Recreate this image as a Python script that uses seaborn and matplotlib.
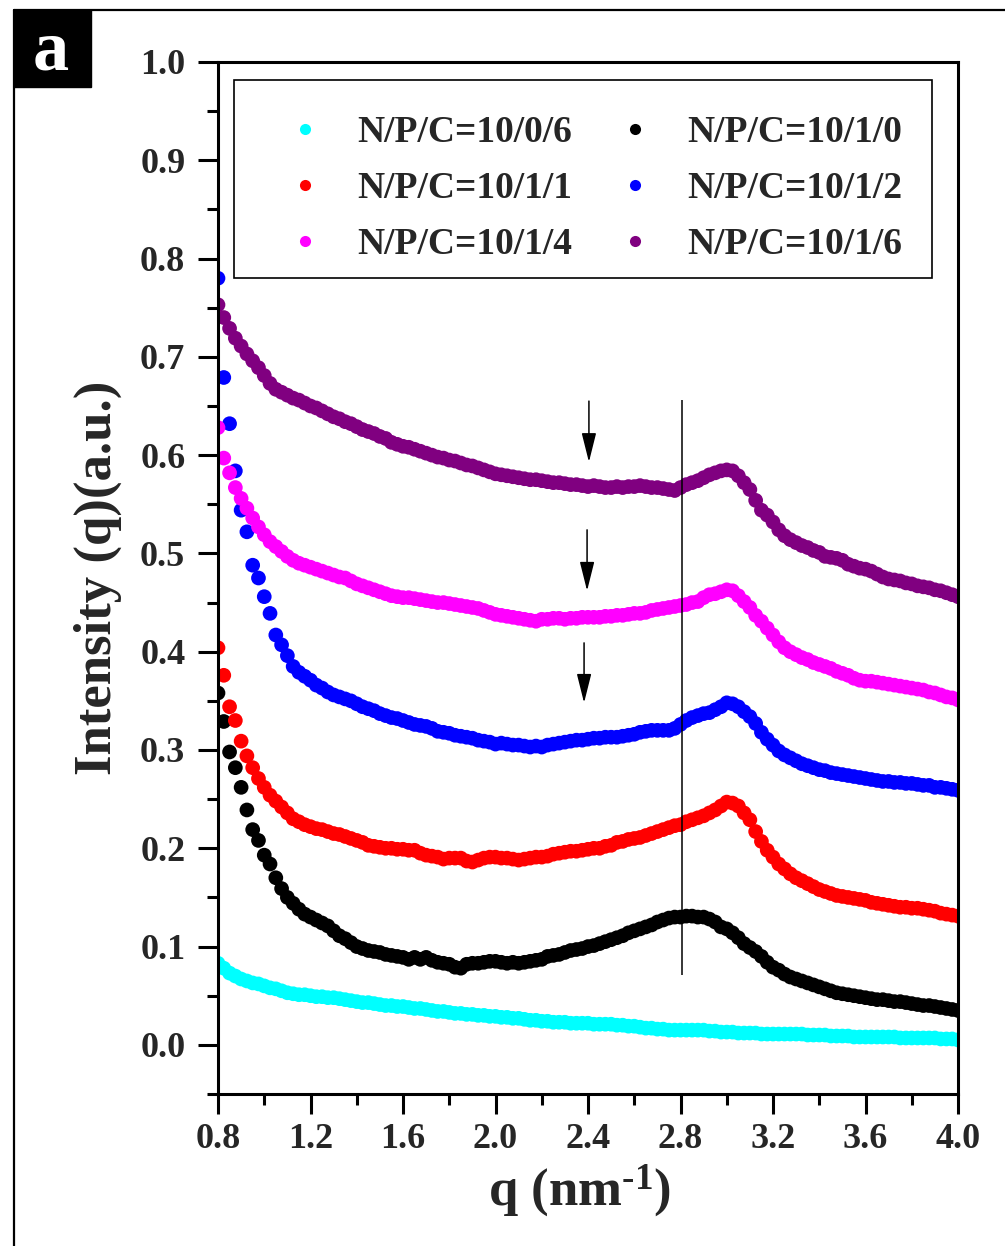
import numpy as np
import pandas as pd
import matplotlib
matplotlib.use("Agg")
import matplotlib.pyplot as plt
from matplotlib.lines import Line2D
from matplotlib.patches import Rectangle
from matplotlib.ticker import MultipleLocator, FormatStrFormatter
import seaborn as sns

# scattering vector grid (nm^-1)
q = np.round(np.linspace(0.8, 4.0, 129), 3)

labels = ["N/P/C=10/0/6", "N/P/C=10/1/0", "N/P/C=10/1/1",
          "N/P/C=10/1/2", "N/P/C=10/1/4", "N/P/C=10/1/6"]
colors = ["#00FFFF", "#000000", "#FF0000", "#0000FF", "#FF00FF", "#800080"]

i_10_0_6 = [
    0.083, 0.078, 0.073, 0.070, 0.067, 0.065, 0.063, 0.062, 0.060, 0.058,
    0.057, 0.055, 0.053, 0.052, 0.051, 0.051, 0.050, 0.049, 0.049, 0.048,
    0.048, 0.047, 0.046, 0.045, 0.044, 0.043, 0.043, 0.042, 0.041, 0.040,
    0.040, 0.039, 0.039, 0.038, 0.037, 0.037, 0.036, 0.035, 0.034, 0.034,
    0.033, 0.032, 0.032, 0.031, 0.031, 0.030, 0.030, 0.029, 0.029, 0.028,
    0.028, 0.027, 0.027, 0.026, 0.025, 0.025, 0.024, 0.024, 0.023, 0.023,
    0.023, 0.022, 0.022, 0.022, 0.022, 0.021, 0.021, 0.021, 0.021, 0.020,
    0.020, 0.019, 0.019, 0.018, 0.017, 0.017, 0.016, 0.016, 0.015, 0.015,
    0.015, 0.015, 0.015, 0.015, 0.015, 0.014, 0.014, 0.013, 0.013, 0.013,
    0.012, 0.012, 0.012, 0.012, 0.011, 0.011, 0.011, 0.011, 0.011, 0.011,
    0.011, 0.011, 0.010, 0.010, 0.010, 0.010, 0.009, 0.009, 0.009, 0.009,
    0.008, 0.008, 0.008, 0.008, 0.008, 0.008, 0.008, 0.008, 0.007, 0.007,
    0.007, 0.007, 0.007, 0.007, 0.007, 0.006, 0.006, 0.006, 0.005]

i_10_1_0 = [
    0.358, 0.329, 0.298, 0.282, 0.262, 0.239, 0.219, 0.208, 0.193, 0.184,
    0.170, 0.159, 0.150, 0.144, 0.138, 0.133, 0.130, 0.127, 0.124, 0.121,
    0.116, 0.111, 0.108, 0.104, 0.100, 0.098, 0.096, 0.095, 0.094, 0.092,
    0.091, 0.090, 0.089, 0.087, 0.089, 0.087, 0.089, 0.086, 0.084, 0.083,
    0.082, 0.079, 0.078, 0.082, 0.083, 0.083, 0.084, 0.085, 0.085, 0.084,
    0.083, 0.084, 0.083, 0.084, 0.085, 0.086, 0.087, 0.090, 0.091, 0.092,
    0.094, 0.096, 0.097, 0.098, 0.100, 0.101, 0.103, 0.105, 0.107, 0.109,
    0.111, 0.114, 0.116, 0.118, 0.120, 0.122, 0.125, 0.127, 0.129, 0.130,
    0.130, 0.131, 0.131, 0.130, 0.130, 0.128, 0.125, 0.120, 0.118, 0.114,
    0.109, 0.103, 0.099, 0.095, 0.090, 0.084, 0.079, 0.076, 0.072, 0.069,
    0.067, 0.065, 0.063, 0.061, 0.059, 0.057, 0.055, 0.053, 0.052, 0.051,
    0.050, 0.049, 0.048, 0.047, 0.046, 0.046, 0.045, 0.044, 0.044, 0.043,
    0.042, 0.041, 0.040, 0.040, 0.039, 0.038, 0.037, 0.036, 0.035]

i_10_1_1 = [
    0.404, 0.376, 0.344, 0.330, 0.309, 0.294, 0.282, 0.271, 0.262, 0.254,
    0.248, 0.242, 0.236, 0.230, 0.227, 0.224, 0.222, 0.220, 0.219, 0.217,
    0.215, 0.214, 0.212, 0.210, 0.208, 0.206, 0.203, 0.202, 0.201, 0.200,
    0.200, 0.199, 0.199, 0.198, 0.198, 0.195, 0.193, 0.192, 0.191, 0.189,
    0.190, 0.190, 0.190, 0.187, 0.186, 0.188, 0.190, 0.191, 0.191, 0.190,
    0.190, 0.189, 0.188, 0.189, 0.190, 0.191, 0.191, 0.192, 0.194, 0.195,
    0.196, 0.197, 0.197, 0.198, 0.199, 0.200, 0.200, 0.202, 0.203, 0.206,
    0.207, 0.209, 0.210, 0.211, 0.213, 0.215, 0.217, 0.219, 0.221, 0.223,
    0.224, 0.227, 0.229, 0.231, 0.233, 0.236, 0.239, 0.243, 0.247, 0.246,
    0.243, 0.236, 0.229, 0.217, 0.207, 0.198, 0.191, 0.184, 0.179, 0.174,
    0.170, 0.167, 0.164, 0.161, 0.158, 0.156, 0.154, 0.152, 0.151, 0.150,
    0.149, 0.148, 0.147, 0.145, 0.144, 0.143, 0.142, 0.141, 0.140, 0.140,
    0.139, 0.139, 0.138, 0.137, 0.136, 0.134, 0.133, 0.132, 0.131]

i_10_1_2 = [
    0.780, 0.679, 0.632, 0.584, 0.544, 0.522, 0.488, 0.475, 0.456, 0.439,
    0.417, 0.407, 0.396, 0.385, 0.379, 0.375, 0.371, 0.366, 0.363, 0.359,
    0.356, 0.354, 0.352, 0.350, 0.347, 0.344, 0.342, 0.340, 0.337, 0.335,
    0.333, 0.332, 0.330, 0.328, 0.326, 0.325, 0.324, 0.322, 0.319, 0.318,
    0.317, 0.315, 0.314, 0.313, 0.312, 0.310, 0.309, 0.308, 0.306, 0.307,
    0.306, 0.305, 0.305, 0.304, 0.303, 0.304, 0.303, 0.305, 0.306, 0.307,
    0.308, 0.309, 0.310, 0.310, 0.311, 0.312, 0.312, 0.313, 0.313, 0.313,
    0.314, 0.315, 0.316, 0.318, 0.319, 0.320, 0.320, 0.320, 0.320, 0.322,
    0.326, 0.330, 0.333, 0.335, 0.337, 0.338, 0.341, 0.344, 0.348, 0.347,
    0.344, 0.339, 0.334, 0.327, 0.318, 0.311, 0.305, 0.299, 0.295, 0.292,
    0.289, 0.286, 0.284, 0.282, 0.280, 0.279, 0.277, 0.276, 0.275, 0.274,
    0.273, 0.272, 0.271, 0.270, 0.269, 0.268, 0.268, 0.267, 0.267, 0.266,
    0.266, 0.265, 0.264, 0.264, 0.262, 0.262, 0.261, 0.260, 0.259]

i_10_1_4 = [
    0.628, 0.597, 0.582, 0.567, 0.556, 0.546, 0.536, 0.527, 0.519, 0.512,
    0.507, 0.502, 0.497, 0.493, 0.490, 0.488, 0.486, 0.484, 0.482, 0.480,
    0.478, 0.476, 0.475, 0.472, 0.469, 0.467, 0.465, 0.463, 0.461, 0.459,
    0.457, 0.456, 0.455, 0.455, 0.454, 0.453, 0.452, 0.451, 0.450, 0.450,
    0.449, 0.448, 0.447, 0.446, 0.445, 0.444, 0.442, 0.440, 0.438, 0.437,
    0.436, 0.435, 0.434, 0.433, 0.432, 0.431, 0.433, 0.433, 0.434, 0.434,
    0.433, 0.434, 0.434, 0.435, 0.435, 0.435, 0.435, 0.436, 0.436, 0.437,
    0.437, 0.438, 0.439, 0.439, 0.440, 0.442, 0.443, 0.444, 0.445, 0.446,
    0.447, 0.448, 0.450, 0.451, 0.455, 0.458, 0.459, 0.461, 0.463, 0.462,
    0.457, 0.451, 0.445, 0.437, 0.431, 0.424, 0.417, 0.410, 0.404, 0.400,
    0.397, 0.394, 0.392, 0.389, 0.387, 0.385, 0.383, 0.380, 0.378, 0.376,
    0.373, 0.371, 0.370, 0.370, 0.369, 0.368, 0.367, 0.366, 0.365, 0.364,
    0.363, 0.362, 0.361, 0.359, 0.358, 0.356, 0.354, 0.353, 0.351]

i_10_1_6 = [
    0.753, 0.740, 0.729, 0.719, 0.711, 0.703, 0.696, 0.689, 0.681, 0.673,
    0.667, 0.664, 0.661, 0.658, 0.656, 0.653, 0.650, 0.648, 0.645, 0.642,
    0.639, 0.637, 0.634, 0.632, 0.629, 0.626, 0.624, 0.622, 0.619, 0.617,
    0.613, 0.611, 0.609, 0.608, 0.606, 0.604, 0.602, 0.600, 0.598, 0.597,
    0.595, 0.594, 0.592, 0.590, 0.589, 0.587, 0.585, 0.583, 0.581, 0.580,
    0.579, 0.578, 0.577, 0.576, 0.575, 0.575, 0.574, 0.573, 0.572, 0.572,
    0.571, 0.570, 0.570, 0.569, 0.568, 0.569, 0.568, 0.567, 0.567, 0.568,
    0.567, 0.568, 0.568, 0.569, 0.568, 0.567, 0.567, 0.566, 0.565, 0.564,
    0.567, 0.570, 0.572, 0.574, 0.577, 0.580, 0.582, 0.584, 0.585, 0.584,
    0.579, 0.572, 0.565, 0.554, 0.544, 0.539, 0.532, 0.524, 0.518, 0.514,
    0.511, 0.508, 0.506, 0.503, 0.501, 0.497, 0.496, 0.495, 0.493, 0.489,
    0.487, 0.485, 0.484, 0.482, 0.479, 0.476, 0.474, 0.473, 0.472, 0.470,
    0.469, 0.467, 0.466, 0.465, 0.463, 0.462, 0.460, 0.458, 0.456]

series = [i_10_0_6, i_10_1_0, i_10_1_1, i_10_1_2, i_10_1_4, i_10_1_6]

# guide line at the shoulder position and arrows marking the weak bumps
guide_q = 2.806
guide_span = (0.071, 0.656)
arrow_q = [2.404, 2.396, 2.383]
arrow_from = [0.655, 0.524, 0.409]
arrow_to = [0.593, 0.462, 0.348]

sns.set_theme(style="ticks")
SERIF = ["Liberation Serif", "DejaVu Serif"]
plt.rcParams["font.family"] = SERIF
plt.rcParams["font.weight"] = "bold"
plt.rcParams["mathtext.fontset"] = "custom"
plt.rcParams["mathtext.rm"] = "Liberation Serif:bold"
plt.rcParams["mathtext.it"] = "Liberation Serif:bold"
plt.rcParams["mathtext.bf"] = "Liberation Serif:bold"
plt.rcParams["mathtext.default"] = "rm"

df = pd.concat(
    [pd.DataFrame({"q": q, "intensity": vals, "sample": name})
     for name, vals in zip(labels, series)],
    ignore_index=True)

W, H = 1005, 1246
fig = plt.figure(figsize=(W / 100, H / 100), dpi=100)
ax = fig.add_axes([218 / W, 152 / H, 740 / W, 1032 / H])

sns.scatterplot(data=df, x="q", y="intensity", hue="sample", hue_order=labels,
                palette=dict(zip(labels, colors)), s=112, linewidth=0,
                edgecolor="none", legend=False, ax=ax)

ax.set_xlim(0.8, 4.0)
ax.set_ylim(-0.05, 1.0)
ax.set_xticks(np.round(np.arange(0.8, 4.01, 0.4), 1))
ax.xaxis.set_minor_locator(MultipleLocator(0.2))
ax.set_yticks(np.round(np.arange(0.0, 1.01, 0.1), 1))
ax.yaxis.set_minor_locator(MultipleLocator(0.05))
ax.xaxis.set_major_formatter(FormatStrFormatter("%.1f"))
ax.yaxis.set_major_formatter(FormatStrFormatter("%.1f"))

for sp in ax.spines.values():
    sp.set_visible(True)
    sp.set_linewidth(2.2)
    sp.set_color("black")

ax.tick_params(which="both", direction="out", color="black", width=2.2,
               top=False, right=False)
ax.tick_params(which="major", length=14.5, labelsize=26)
ax.tick_params(which="minor", length=8)
ax.tick_params(axis="x", which="major", pad=6.5)
ax.tick_params(axis="y", which="major", pad=9)
for lab in ax.get_xticklabels() + ax.get_yticklabels():
    lab.set_fontweight("bold")

ax.set_xlabel(r"q (nm$^{\text{-}1}$)", fontsize=38, fontweight="bold")
ax.set_ylabel("Intensity (q)(a.u.)", fontsize=38, fontweight="bold")
ax.xaxis.set_label_coords(0.488, -0.066)
ax.yaxis.set_label_coords(-0.130, 0.50)

ax.vlines(guide_q, *guide_span, color="black", lw=1.1, zorder=3)
for xq, y0, y1 in zip(arrow_q, arrow_from, arrow_to):
    ax.annotate("", xy=(xq, y1), xytext=(xq, y0),
                arrowprops=dict(arrowstyle="-|>,head_length=1.8,head_width=0.45",
                                mutation_scale=10, color="black", lw=1.1,
                                shrinkA=0, shrinkB=0))

# legend: two columns, entries ordered column by column
order = [0, 2, 4, 1, 3, 5]
handles = [Line2D([], [], marker="o", ls="", color=colors[k],
                  markersize=8, markeredgewidth=0) for k in order]
leg = ax.legend(handles, [labels[k] for k in order], ncol=2,
                loc="upper left", bbox_to_anchor=(0.092, 0.949),
                frameon=False, borderpad=0, borderaxespad=0,
                handlelength=1.0, handletextpad=0.9, columnspacing=1.17,
                labelspacing=0.56,
                prop=dict(family=SERIF, weight="bold", size=27))
ax.add_patch(Rectangle((0.0216, 0.7907), 0.9432, 0.1919, transform=ax.transAxes,
                       fill=False, lw=1.2, ec="black", zorder=5))

# panel frame and label
fx, fy = 14 / W, 1 - 10 / H
fig.add_artist(Line2D([fx, fx], [0, fy], transform=fig.transFigure,
                      color="black", lw=1.6))
fig.add_artist(Line2D([fx, 1], [fy, fy], transform=fig.transFigure,
                      color="black", lw=1.6))
fig.add_artist(Rectangle((fx, 1 - 87 / H), 77 / W, 77 / H,
                         transform=fig.transFigure, color="black"))
fig.text(51 / W, 1 - 70 / H, "a", color="white", fontsize=52,
         fontweight="bold", ha="center", va="baseline")

fig.savefig("out.png", dpi=100)
